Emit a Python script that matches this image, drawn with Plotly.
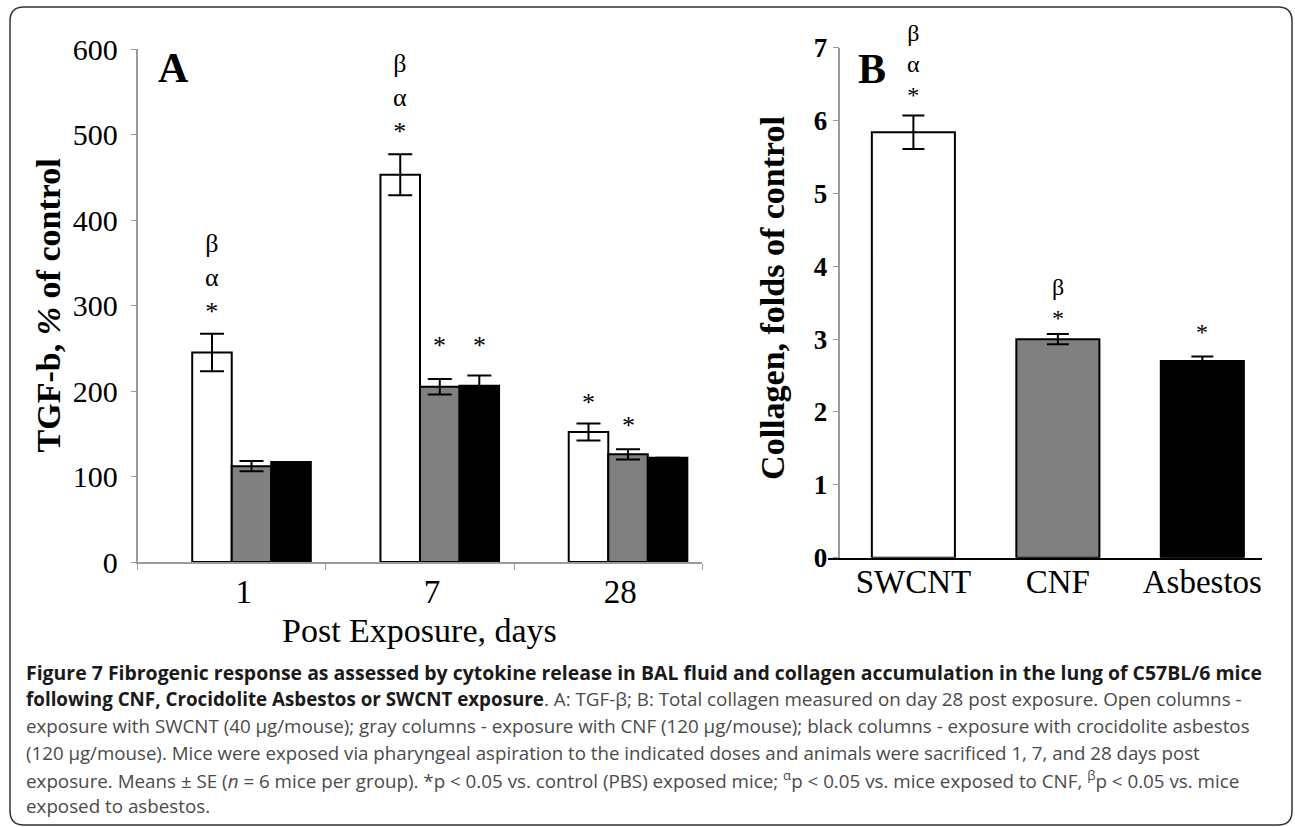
import plotly.graph_objects as go

W, H = 1295, 827

def px(x):
    return x / W

def py(y):
    return 1 - y / H

# ---------------- data ----------------
days = ["1", "7", "28"]
tgf_swcnt = [245, 453, 152]
tgf_swcnt_se = [22, 24, 10]
tgf_cnf = [112, 205, 126]
tgf_cnf_se = [6, 9, 6]
tgf_asb = [117, 206, 122]
tgf_asb_se = [0, 12, 0]
tgf_marks_swcnt = ["β<br>α<br>*", "β<br>α<br>*", "*"]
tgf_marks_cnf = ["", "*", "*"]
tgf_marks_asb = ["", "*", ""]

materials = ["SWCNT", "CNF", "Asbestos"]
collagen = [5.84, 3.00, 2.70]
collagen_se = [0.23, 0.07, 0.06]
collagen_marks = ["β<br>α<br>*", "β<br>*", "*"]

fills = ["white", "#808080", "black"]

# label offsets above the error bars (pixels, style only)
tgf_mark_shift = [[6, 6, 4], [6, 17, 7], [6, 14, 6]]
collagen_mark_shift = [5, 1, 10]

SERIF = "Liberation Serif, Times New Roman, serif"
SANS = "Open Sans, Noto Sans, sans-serif"

fig = go.Figure()

# ---------------- panel A ----------------
bar_w = 0.21
offsets = [-0.21, 0.0, 0.21]
series = [
    (tgf_swcnt, tgf_swcnt_se, tgf_marks_swcnt),
    (tgf_cnf, tgf_cnf_se, tgf_marks_cnf),
    (tgf_asb, tgf_asb_se, tgf_marks_asb),
]
annotations = []
for k, (vals, se, marks) in enumerate(series):
    fig.add_trace(go.Bar(
        x=days, y=vals, offset=offsets[k], width=bar_w,
        marker=dict(color=fills[k], line=dict(color="black", width=2)),
        error_y=dict(type="data", array=se, color="black", thickness=2, width=12),
        xaxis="x", yaxis="y", showlegend=False))
    for i, m in enumerate(marks):
        if m:
            annotations.append(dict(
                x=i + offsets[k] + bar_w / 2, y=vals[i] + se[i], xref="x", yref="y",
                text=m, showarrow=False, xanchor="center", yanchor="bottom",
                yshift=tgf_mark_shift[k][i],
                font=dict(family=SERIF, size=26, color="black")))

# ---------------- panel B ----------------
fig.add_trace(go.Bar(
    x=materials, y=collagen, width=0.575,
    marker=dict(color=fills, line=dict(color="black", width=2)),
    error_y=dict(type="data", array=collagen_se, color="black", thickness=2, width=11),
    xaxis="x2", yaxis="y2", showlegend=False))
for i, m in enumerate(collagen_marks):
    annotations.append(dict(
        x=i, y=collagen[i] + collagen_se[i], xref="x2", yref="y2",
        text=m, showarrow=False, xanchor="center", yanchor="bottom",
        yshift=collagen_mark_shift[i],
        font=dict(family=SERIF, size=24, color="black")))

# panel letters and axis titles
def lab(x, y, text, size, angle=0):
    return dict(x=px(x), y=py(y), xref="paper", yref="paper", text=text,
                showarrow=False, xanchor="center", yanchor="middle", textangle=angle,
                font=dict(family=SERIF, size=size, color="black"))

annotations += [
    lab(173.6, 68.3, "<b>A</b>", 42),
    lab(872, 69, "<b>B</b>", 42),
    lab(48.4, 305, "<b>TGF-b, <i>%</i> of control</b>", 34, -90),
    lab(772.4, 297.5, "<b>Collagen, folds of control</b>", 34, -90),
    lab(419, 630, "Post Exposure, days", 34),
]

# caption
BOLD = "#1a1a1a"
REG = "#4a4a4a"
caption_lines = [
    "<b>Figure 7 Fibrogenic response as assessed by cytokine release in BAL fluid and collagen accumulation in the lung of C57BL/6 mice</b>",
    "<span style='color:%s'><b>following CNF, Crocidolite Asbestos or SWCNT exposure</b></span>. A: TGF-β; B: Total collagen measured on day 28 post exposure. Open columns -" % BOLD,
    "exposure with SWCNT (40 µg/mouse); gray columns - exposure with CNF (120 µg/mouse); black columns - exposure with crocidolite asbestos",
    "(120 µg/mouse). Mice were exposed via pharyngeal aspiration to the indicated doses and animals were sacrificed 1, 7, and 28 days post",
    "exposure. Means ± SE (<i>n</i> = 6 mice per group). *p &lt; 0.05 vs. control (PBS) exposed mice; <sup>α</sup>p &lt; 0.05 vs. mice exposed to CNF, <sup>β</sup>p &lt; 0.05 vs. mice",
    "exposed to asbestos.",
]
caption_sizes = [19.45, 18.8, 18.75, 18.7, 18.8, 18.8]
baselines = [678.3, 705, 731.7, 758.3, 785.7, 811.7]
for j, (t, b) in enumerate(zip(caption_lines, baselines)):
    annotations.append(dict(
        x=px(24), y=py(b - 6), xref="paper", yref="paper", xanchor="left", yanchor="middle",
        text=t, showarrow=False, align="left",
        font=dict(family=SANS, size=caption_sizes[j], color=BOLD if j == 0 else REG)))

# frame
L, R, T, B, r = 10, 1292, 7, 825, 14
rx, ry = r / W, r / H
path = (f"M {px(L)+rx},{py(T)} L {px(R)-rx},{py(T)} Q {px(R)},{py(T)} {px(R)},{py(T)-ry} "
        f"L {px(R)},{py(B)+ry} Q {px(R)},{py(B)} {px(R)-rx},{py(B)} "
        f"L {px(L)+rx},{py(B)} Q {px(L)},{py(B)} {px(L)},{py(B)+ry} "
        f"L {px(L)},{py(T)-ry} Q {px(L)},{py(T)} {px(L)+rx},{py(T)} Z")

AX = "#9a9a9a"
fig.update_layout(
    width=W, height=H, margin=dict(l=0, r=0, t=0, b=0, pad=0, autoexpand=False),
    paper_bgcolor="white", plot_bgcolor="white",
    barmode="overlay", showlegend=False,
    annotations=annotations,
    shapes=[dict(type="path", path=path, xref="paper", yref="paper",
                 line=dict(color="#333333", width=1.5))],
    xaxis=dict(domain=[px(137.6), px(702.4)], range=[-0.5, 2.5], type="category",
               showline=True, linecolor=AX, linewidth=1.5, ticks="outside",
               tickson="boundaries", ticklen=6, tickcolor=AX, tickwidth=1,
               ticklabelshift=12, ticklabelstandoff=0, automargin=False,
               tickfont=dict(family=SERIF, size=33, color="black"),
               showgrid=False, zeroline=False, anchor="y"),
    yaxis=dict(domain=[py(562), py(49)], range=[0, 600], dtick=100,
               showline=True, linecolor=AX, linewidth=1.5, ticks="outside",
               ticklen=5, tickcolor=AX, ticklabelstandoff=7, automargin=False,
               tickfont=dict(family=SERIF, size=30, color="black"),
               showgrid=False, zeroline=False, anchor="x"),
    xaxis2=dict(domain=[px(828), px(1262.3)], range=[-0.591, 2.415], type="category",
                showline=True, linecolor="black", linewidth=2, ticks="",
                ticklabelstandoff=-6, automargin=False,
                tickfont=dict(family=SERIF, size=33, color="black"),
                showgrid=False, zeroline=False, anchor="y2"),
    yaxis2=dict(domain=[py(557.7), py(47.7)], range=[0, 7], dtick=1,
                anchor="free", position=px(839.4), automargin=False,
                showline=True, linecolor=AX, linewidth=1.5, ticks="outside",
                ticklen=6, tickcolor=AX, ticklabelstandoff=0,
                tickfont=dict(family=SERIF, size=27, color="black", weight="bold"),
                showgrid=False, zeroline=False),
)

fig.write_html("out.html")
